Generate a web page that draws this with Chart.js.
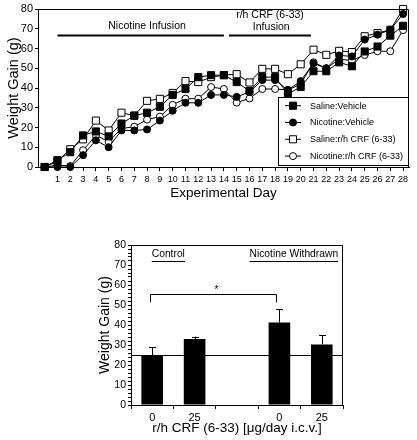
<!DOCTYPE html>
<html><head><meta charset="utf-8">
<script src="https://cdn.jsdelivr.net/npm/chart.js@4/dist/chart.umd.min.js"></script>
<style>
html,body{margin:0;padding:0;background:#fff;}
.box{position:absolute;left:0;}
</style></head><body>
<div style="position:relative;width:417px;height:440px;">
<div class="box" style="top:0;width:417px;height:207px"><canvas id="c1" width="417" height="207"></canvas></div>
<div class="box" style="top:230px;width:417px;height:210px"><canvas id="c2" width="417" height="210"></canvas></div>
</div>
<script>
// ---------- DATA ----------
const days = [0,1,2,3,4,5,6,7,8,9,10,11,12,13,14,15,16,17,18,19,20,21,22,23,24,25,26,27,28];
const dayTickLabels = ['', '1','2','3','4','5','6','7','8','9','10','11','12','13','14','15','16','17','18','19','20','21','22','23','24','25','26','27','28'];
const seriesNames = ['Saline:Vehicle', 'Nicotine:Vehicle', 'Saline:r/h CRF (6-33)', 'Nicotine:r/h CRF (6-33)'];
const salineVehicle   = [0,3.5,7.5,16,18,15.5,22,26,27.5,30.5,36.5,39.5,45.5,46.5,46.5,43,38.5,45.5,45.5,37,40.5,48.5,48.5,53,51,58.5,61,66.5,71.5];
const nicotineVehicle = [0,0,0,6,13.5,10,18.5,18.5,19,23.5,28.5,32.5,32.5,36.5,36.5,35.5,38,44,44,39,43.5,52.5,50,56.5,56,64.5,67,69.5,77.5];
const salineCRF       = [0,3,9,14,23.5,18.5,27.5,26,33.5,34.5,37.5,43.5,43,45.5,46.5,47,42.8,49.7,49.7,47,52,59.4,56.8,58.8,58.2,66.2,67.8,69.5,80];
const nicotineCRF     = [0,1,0.5,8.5,16,12.8,19.5,20.4,24,25.5,31.5,34.6,34.6,40.5,39.5,32.6,34.7,39.5,39.5,39,42,53,50,54.5,54,56.7,58.6,58.6,69.3];
const yTicksTop = [0,10,20,30,40,50,60,70,80];
const yTicksBottom = [0,2,4,6,8,10,12,14,16,18,20,22,24,26,28,30,32,34,36,38,40,42,44,46,48,50,52,54,56,58,60,62,64,66,68,70,72,74,76,78,80];

const doseLabels = ['0','25','','0','25'];
const meanGain = [25, 33, null, 41.3, 30.3];
const semGain  = [3.8, 1.2, null, 6.5, 4.5];
const groupLabels = ['Control', 'Nicotine Withdrawn'];
const baselineGain = 25;

// ---------- STYLE ----------
const FONT = "'Liberation Sans',Arial,Helvetica,sans-serif";
Chart.defaults.font.family = FONT;
Chart.defaults.color = '#000';
const markers = [
  {style:'rect', fill:'#000', r:5},
  {style:'circle', fill:'#000', r:3.5},
  {style:'rect', fill:'#fff', r:5},
  {style:'circle', fill:'#fff', r:3.5}
];
const seriesValues = [salineVehicle, nicotineVehicle, salineCRF, nicotineCRF];

function drawMarker(ctx, m, x, y){
  ctx.beginPath();
  if (m.style === 'rect') { const h = m.r*Math.SQRT1_2; ctx.rect(x-h, y-h, 2*h, 2*h); }
  else ctx.arc(x, y, m.r, 0, Math.PI*2);
  ctx.fillStyle = m.fill; ctx.fill();
  ctx.lineWidth = 1; ctx.strokeStyle = '#000'; ctx.stroke();
}

const topDecor = {
  id:'topDecor',
  afterDatasetsDraw(chart){
    const {ctx, chartArea:a, scales:{x,y}} = chart;
    ctx.save();
    ctx.strokeStyle = '#000'; ctx.lineWidth = 1;
    ctx.beginPath();
    ctx.moveTo(a.left, a.top+0.5); ctx.lineTo(a.right-0.5, a.top+0.5); ctx.lineTo(a.right-0.5, a.bottom);
    ctx.stroke();
    // infusion bars
    ctx.lineWidth = 2;
    [[1,14],[14.4,20.8]].forEach(([s,e])=>{
      const yy = y.getPixelForValue(66.6);
      ctx.beginPath(); ctx.moveTo(x.getPixelForValue(s), yy); ctx.lineTo(x.getPixelForValue(e), yy); ctx.stroke();
    });
    ctx.fillStyle = '#000';
    ctx.font = '10.5px ' + FONT; ctx.textAlign = 'center'; ctx.textBaseline = 'middle';
    ctx.fillText('Nicotine Infusion', x.getPixelForValue(8.0), y.getPixelForValue(71.2));
    ctx.fillText('r/h CRF (6-33)', x.getPixelForValue(17.6), y.getPixelForValue(76.8));
    ctx.fillText('Infusion', x.getPixelForValue(17.7), y.getPixelForValue(70.9));
    // legend
    const L = a.right - 131, T = a.bottom - 70, W = 131, H = 69;
    ctx.fillStyle = '#fff'; ctx.fillRect(L, T, W, H);
    ctx.lineWidth = 1; ctx.strokeStyle = '#000';
    ctx.strokeRect(L+0.5, T+0.5, W-1, H-1);
    ctx.font = '9px ' + FONT; ctx.textAlign = 'left';
    seriesNames.forEach((name,k)=>{
      const cy = T + 8.7 + k*16.8;
      ctx.beginPath(); ctx.moveTo(L+7, cy); ctx.lineTo(L+23, cy); ctx.stroke();
      drawMarker(ctx, markers[k], L+15, cy);
      ctx.fillStyle = '#000';
      ctx.fillText(name, L+32, cy+0.5);
    });
    ctx.restore();
  }
};

new Chart(document.getElementById('c1'), {
  type:'line',
  data:{
    datasets: seriesValues.map((vals,k)=>({
      label: seriesNames[k],
      data: days.map((d,i)=>({x:d, y:vals[i]})),
      borderColor:'#000', borderWidth:1, tension:0, clip:false,
      pointStyle: markers[k].style, pointRadius: markers[k].r,
      pointBackgroundColor: markers[k].fill, pointBorderColor:'#000', pointBorderWidth:1
    }))
  },
  options:{
    responsive:false, animation:false, events:[],
    layout:{padding:{left:0, right:8, top:9, bottom:0}},
    plugins:{legend:{display:false}, tooltip:{enabled:false}},
    scales:{
      x:{
        type:'linear', min:-0.52, max:28.46,
        afterBuildTicks: s => { s.ticks = days.map(v=>({value:v})); },
        afterFit: s => { s.height = 40; },
        ticks:{autoSkip:false, maxRotation:0, font:{size:9}, padding:3, callback:(v,i)=>dayTickLabels[i]},
        grid:{drawOnChartArea:false, drawTicks:true, tickLength:4, color:'#000'},
        border:{color:'#000', width:1},
        title:{display:true, text:'Experimental Day', font:{size:13.5}, padding:{top:0,bottom:6}}
      },
      y:{
        min:0, max:80,
        afterBuildTicks: s => { s.ticks = yTicksTop.map(v=>({value:v})); },
        afterFit: s => { s.width = 38; },
        ticks:{font:{size:11}, padding:2},
        grid:{drawOnChartArea:false, drawTicks:true, tickLength:3, color:'#000'},
        border:{color:'#000', width:1},
        title:{display:true, text:'Weight Gain (g)', font:{size:14.5}, padding:{top:5.5,bottom:0}}
      }
    }
  },
  plugins:[topDecor]
});

// ---------- bottom chart ----------
const bottomDecor = {
  id:'bottomDecor',
  afterDatasetsDraw(chart){
    const {ctx, chartArea:a, scales:{x,y}} = chart;
    ctx.save();
    ctx.strokeStyle = '#000'; ctx.lineWidth = 1;
    ctx.beginPath();
    ctx.moveTo(a.left, a.top+0.5); ctx.lineTo(a.right-0.5, a.top+0.5); ctx.lineTo(a.right-0.5, a.bottom);
    ctx.stroke();
    // baseline
    const by = Math.round(y.getPixelForValue(baselineGain))+0.5;
    ctx.beginPath(); ctx.moveTo(a.left, by); ctx.lineTo(a.right, by); ctx.stroke();
    // error bars
    const meta = chart.getDatasetMeta(0);
    meanGain.forEach((m,i)=>{
      if (m === null) return;
      const cx = Math.round(meta.data[i].x)+0.5;
      const top = y.getPixelForValue(m + semGain[i]);
      ctx.beginPath(); ctx.moveTo(cx, y.getPixelForValue(m)); ctx.lineTo(cx, top);
      ctx.moveTo(cx-3.5, Math.round(top)+0.5); ctx.lineTo(cx+3.5, Math.round(top)+0.5); ctx.stroke();
    });
    // significance bracket
    const x0 = Math.round(x.getPixelForValue(0))-1.5, x1 = Math.round(x.getPixelForValue(3))-2.5;
    const yt = Math.round(y.getPixelForValue(55.5))+0.5, yb = y.getPixelForValue(51.3);
    ctx.beginPath(); ctx.moveTo(x0, yb); ctx.lineTo(x0, yt); ctx.lineTo(x1, yt); ctx.lineTo(x1, yb); ctx.stroke();
    ctx.fillStyle = '#000'; ctx.textAlign = 'center'; ctx.textBaseline = 'middle';
    ctx.font = '10px ' + FONT;
    ctx.fillText('*', (x0+x1)/2 + 3, y.getPixelForValue(57.3));
    // group labels, underlined
    ctx.font = '10.3px ' + FONT;
    [[groupLabels[0], 0.38], [groupLabels[1], 3.34]].forEach(([t,c])=>{
      const cx = x.getPixelForValue(c), cy = y.getPixelForValue(75.2);
      ctx.fillText(t, cx, cy);
      const w = ctx.measureText(t).width;
      const uy = Math.round(y.getPixelForValue(72.2))+0.5;
      ctx.beginPath(); ctx.moveTo(cx-w/2, uy); ctx.lineTo(cx+w/2, uy); ctx.stroke();
    });
    ctx.restore();
  }
};

new Chart(document.getElementById('c2'), {
  type:'bar',
  data:{
    labels: doseLabels,
    datasets:[{data: meanGain, backgroundColor:'#000', borderWidth:0, categoryPercentage:1, barPercentage:0.51}]
  },
  options:{
    responsive:false, animation:false, events:[],
    layout:{padding:{left:91, right:74, top:15, bottom:0}},
    plugins:{legend:{display:false}, tooltip:{enabled:false}},
    scales:{
      x:{
        afterFit: s => { s.height = 35; },
        ticks:{font:{size:11}, padding:2, maxRotation:0, autoSkip:false},
        grid:{drawOnChartArea:false, drawTicks:true, tickLength:4, color:'#000', offset:true},
        border:{color:'#000', width:1},
        title:{display:true, text:'r/h CRF (6-33) [μg/day i.c.v.]', font:{size:13.5}, padding:{top:0,bottom:4}}
      },
      y:{
        min:0, max:80,
        afterBuildTicks: s => { s.ticks = yTicksBottom.map(v=>({value:v})); },
        afterFit: s => { s.width = 40; },
        ticks:{font:{size:10.5}, padding:2, autoSkip:false, callback:(v)=> (v % 10 === 0 ? String(v) : '')},
        grid:{drawOnChartArea:false, drawTicks:true, tickLength:3, color:'#000'},
        border:{color:'#000', width:1},
        title:{display:true, text:'Weight Gain (g)', font:{size:14}, padding:{top:5.5,bottom:0}}
      }
    }
  },
  plugins:[bottomDecor]
});
</script>
</body></html>
